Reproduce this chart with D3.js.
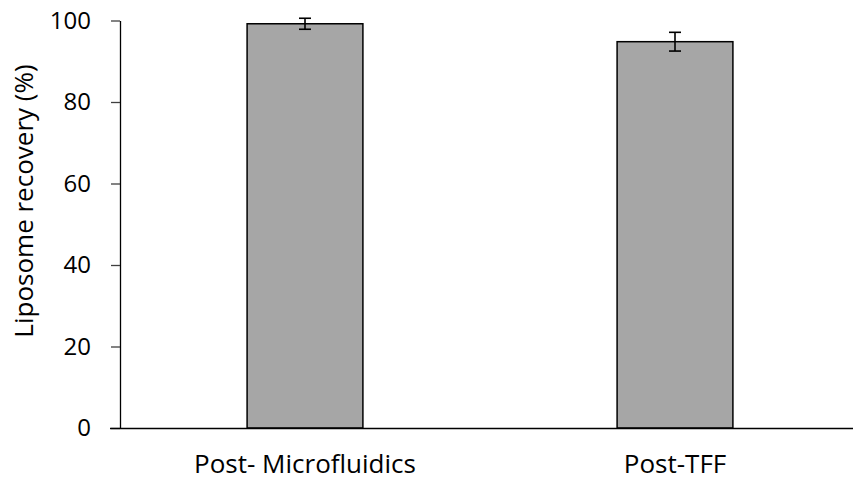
<!DOCTYPE html>
<html>
<head>
<meta charset="utf-8">
<script src="https://cdn.jsdelivr.net/npm/d3@7"></script>
<style>
  html, body { margin: 0; padding: 0; background: #fff; }
  svg text { font-family: "Open Sans", sans-serif; fill: #000; }
</style>
</head>
<body>
<svg id="chart" width="853" height="482"></svg>
<script>
// Recovery of liposomes after each processing step (mean ± SD, %)
const categories = ["Post- Microfluidics", "Post-TFF"];
const recovery = [99.2, 94.8];
const recoveryErr = [1.35, 2.3];
const yTicks = [0, 20, 40, 60, 80, 100];

const svg = d3.select("#chart");
const plot = { left: 120, right: 860, top: 20.5, bottom: 428 };
const labelSize = 26;
const tickSize = 24;

const x = d3.scaleBand()
  .domain(categories)
  .range([plot.left, plot.right])
  .paddingInner(0.687)
  .paddingOuter(0.3435);

const y = d3.scaleLinear()
  .domain([0, 100])
  .range([plot.bottom, plot.top]);

const data = categories.map((c, i) => ({ cat: c, v: recovery[i], e: recoveryErr[i] }));

// Bars
svg.append("g").selectAll("rect")
  .data(data)
  .join("rect")
  .attr("x", d => x(d.cat))
  .attr("y", d => y(d.v))
  .attr("width", x.bandwidth())
  .attr("height", d => y(0) - y(d.v))
  .attr("fill", "#a6a6a6")
  .attr("stroke", "#000")
  .attr("stroke-width", 1.5);

// Error bars
const err = svg.append("g").attr("stroke", "#000").attr("stroke-width", 1.6);
data.forEach(d => {
  const cx = x(d.cat) + x.bandwidth() / 2;
  err.append("line").attr("x1", cx).attr("x2", cx).attr("y1", y(d.v + d.e)).attr("y2", y(d.v - d.e));
  err.append("line").attr("x1", cx - 6).attr("x2", cx + 6).attr("y1", y(d.v + d.e)).attr("y2", y(d.v + d.e));
  err.append("line").attr("x1", cx - 6).attr("x2", cx + 6).attr("y1", y(d.v - d.e)).attr("y2", y(d.v - d.e));
});

// Y axis
const yAxis = svg.append("g")
  .attr("transform", `translate(${plot.left},0)`)
  .call(d3.axisLeft(y).tickValues(yTicks).tickSize(9).tickPadding(20).tickSizeOuter(0));
yAxis.select(".domain").attr("stroke", "#000").attr("stroke-width", 1.3);
yAxis.selectAll(".tick line").attr("stroke", "#404040").attr("stroke-width", 1.3);
yAxis.selectAll(".tick text")
  .style("font-family", "'Open Sans', sans-serif")
  .style("font-size", tickSize + "px")
  .attr("fill", "#000");

// X axis baseline
const xAxis = svg.append("g")
  .attr("transform", `translate(0,${plot.bottom})`)
  .call(d3.axisBottom(x).tickSize(0).tickPadding(27));
xAxis.select(".domain").attr("stroke", "#000").attr("stroke-width", 1.3)
  .attr("d", `M${plot.left - 10},0.5H${plot.right}`);
xAxis.selectAll(".tick text")
  .style("font-family", "'Open Sans', sans-serif")
  .style("font-size", labelSize + "px")
  .attr("fill", "#000");

// Y axis title
svg.append("text")
  .attr("transform", `translate(33,201) rotate(-90)`)
  .attr("text-anchor", "middle")
  .style("font-size", labelSize + "px")
  .text("Liposome recovery (%)");
</script>
</body>
</html>
